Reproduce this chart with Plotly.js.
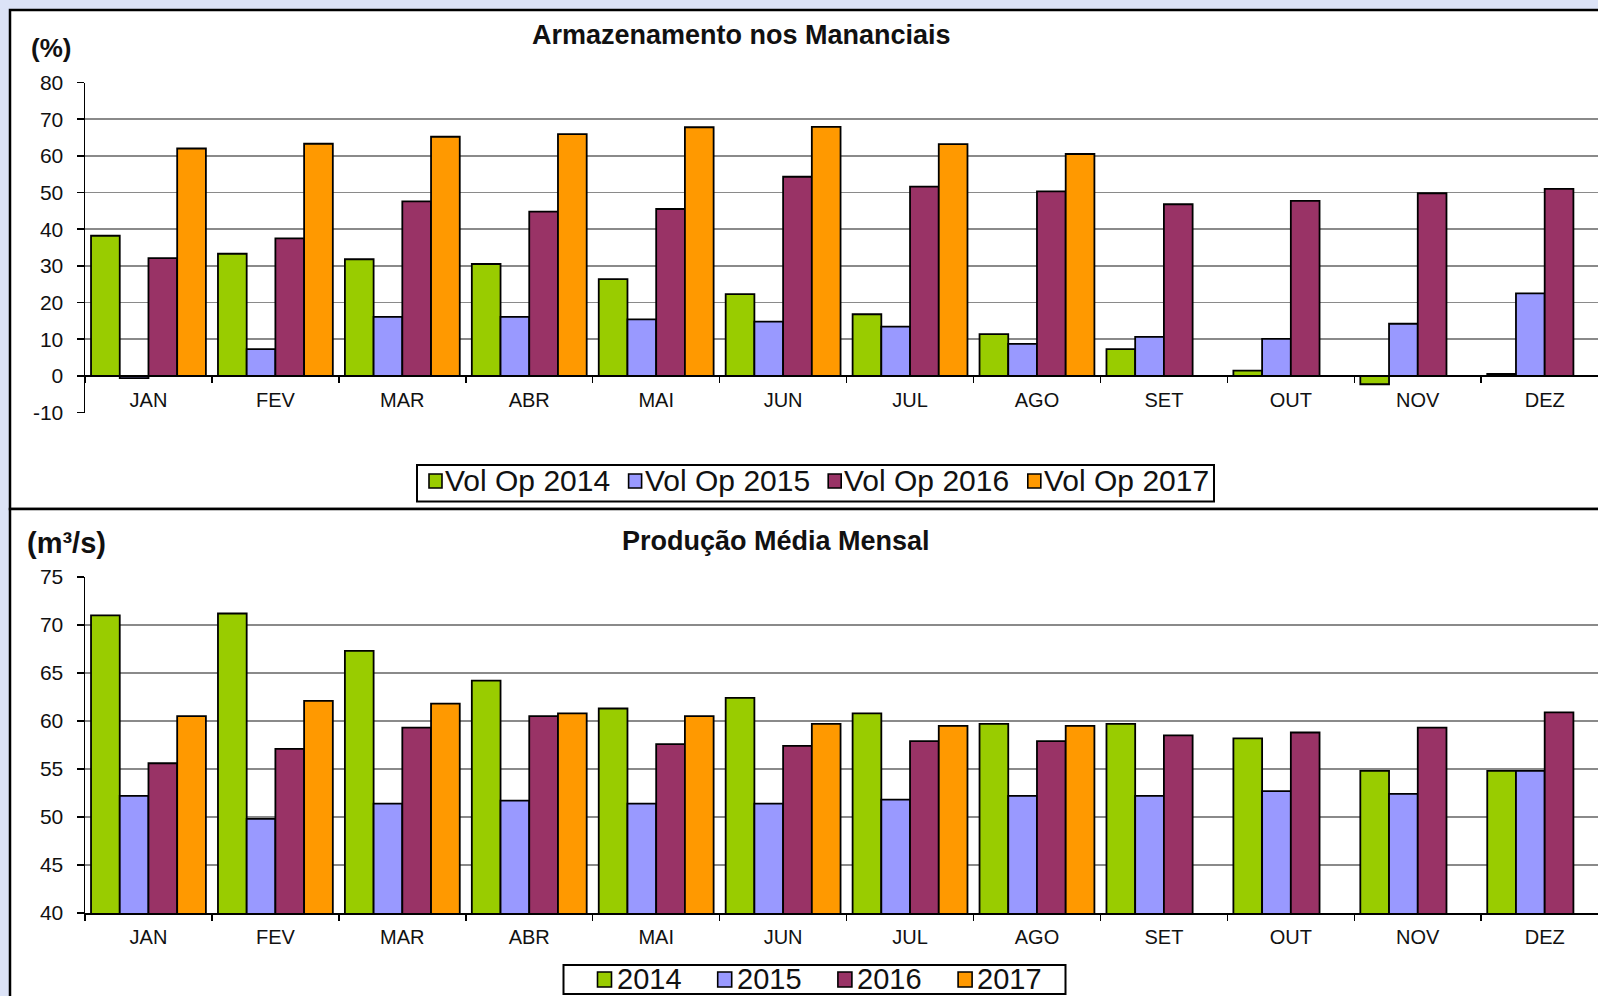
<!DOCTYPE html>
<html>
<head>
<meta charset="utf-8">
<script src="https://cdn.plot.ly/plotly-3.0.1.min.js"></script>
<style>
html,body{margin:0;padding:0;background:#dce3f7;overflow:hidden;}
#chart{width:1598px;height:996px;}
</style>
</head>
<body>
<div id="chart"></div>
<script>
// ---- data ----
var months = ['JAN','FEV','MAR','ABR','MAI','JUN','JUL','AGO','SET','OUT','NOV','DEZ'];

var volNames = ['Vol Op 2014','Vol Op 2015','Vol Op 2016','Vol Op 2017'];
var vol2014 = [38.2, 33.3, 31.8, 30.5, 26.4, 22.3, 16.8, 11.4, 7.3, 1.4, -2.3, 0.5];
var vol2015 = [-0.6, 7.3, 16.1, 16.1, 15.4, 14.8, 13.4, 8.7, 10.6, 10.1, 14.2, 22.5];
var vol2016 = [32.1, 37.5, 47.6, 44.8, 45.5, 54.3, 51.6, 50.3, 46.8, 47.7, 49.8, 51.0];
var vol2017 = [62.0, 63.3, 65.2, 65.9, 67.8, 67.9, 63.2, 60.5, null, null, null, null];
var volTickVals = [-10, 0, 10, 20, 30, 40, 50, 60, 70, 80];
var volTickText = ['-10', '0', '10', '20', '30', '40', '50', '60', '70', '80'];

var prodNames = ['2014','2015','2016','2017'];
var prod2014 = [71.0, 71.2, 67.3, 64.2, 61.3, 62.4, 60.8, 59.7, 59.7, 58.2, 54.8, 54.8];
var prod2015 = [52.2, 49.8, 51.4, 51.7, 51.4, 51.4, 51.8, 52.2, 52.2, 52.7, 52.4, 54.8];
var prod2016 = [55.6, 57.1, 59.3, 60.5, 57.6, 57.4, 57.9, 57.9, 58.5, 58.8, 59.3, 60.9];
var prod2017 = [60.5, 62.1, 61.8, 60.8, 60.5, 59.7, 59.5, 59.5, null, null, null, null];

var topTitle = 'Armazenamento nos Mananciais';
var topUnit = '(%)';
var botTitle = 'Produção Média Mensal';
var botUnit = '(m³/s)';

var colors = ['#99cc00', '#9999ff', '#993366', '#ff9900'];

// ---- geometry helpers (pixel -> paper) ----
var W = 1598, H = 996;
function px(x){ return x / W; }
function py(y){ return 1 - y / H; }

var FONT = '"Liberation Sans", Arial, sans-serif';
var TXT = '#111';

var traces = [];
[vol2014, vol2015, vol2016, vol2017].forEach(function(v, i){
  traces.push({
    type: 'bar', x: months, y: v, name: volNames[i],
    xaxis: 'x', yaxis: 'y', showlegend: false,
    marker: {color: colors[i], line: {color: '#000', width: 1.8}},
    hoverinfo: 'x+y+name'
  });
});
[prod2014, prod2015, prod2016, prod2017].forEach(function(v, i){
  traces.push({
    type: 'bar', x: months, y: v, name: prodNames[i],
    xaxis: 'x2', yaxis: 'y2', showlegend: false,
    marker: {color: colors[i], line: {color: '#000', width: 1.8}},
    hoverinfo: 'x+y+name'
  });
});

var xRange = [-0.5, 11.42];
var xDomain = [px(85), 1];

var yTopTop = 82.5, yTopBot = 412.5;
var zeroPx = yTopTop + (80 / 90) * (yTopBot - yTopTop);

var yTickFont = {family: FONT, size: 21, color: TXT};
var xTickFont = {family: FONT, size: 20, color: TXT};

var shapes = [
  {type: 'rect', xref: 'paper', yref: 'paper', x0: px(10), x1: px(1620), y0: py(509), y1: py(10),
   fillcolor: '#ffffff', line: {color: '#000', width: 2.5}, layer: 'below'},
  {type: 'rect', xref: 'paper', yref: 'paper', x0: px(10), x1: px(1620), y0: py(1020), y1: py(509),
   fillcolor: '#ffffff', line: {color: '#000', width: 2.5}, layer: 'below'}
];

var annotations = [
  {text: '<b>' + topTitle + '</b>', xref: 'paper', yref: 'paper', x: px(741), y: py(35),
   xanchor: 'center', yanchor: 'middle', showarrow: false, font: {family: FONT, size: 27, color: TXT}},
  {text: '<b>' + topUnit + '</b>', xref: 'paper', yref: 'paper', x: px(29), y: py(48),
   xanchor: 'left', yanchor: 'middle', showarrow: false, font: {family: FONT, size: 26, color: TXT}},
  {text: '<b>' + botTitle + '</b>', xref: 'paper', yref: 'paper', x: px(776), y: py(541),
   xanchor: 'center', yanchor: 'middle', showarrow: false, font: {family: FONT, size: 27, color: TXT}},
  {text: '<b>' + botUnit + '</b>', xref: 'paper', yref: 'paper', x: px(25), y: py(543),
   xanchor: 'left', yanchor: 'middle', showarrow: false, font: {family: FONT, size: 29, color: TXT}}
];

// ---- legends (box + swatch + label per series) ----
function addLegend(names, box, sw0, pitch, swW, swTop, swBot, textGap, textY, fontSize){
  shapes.push({type: 'rect', xref: 'paper', yref: 'paper',
    x0: px(box[0]), x1: px(box[1]), y0: py(box[3]), y1: py(box[2]),
    fillcolor: '#ffffff', line: {color: '#000', width: 2}});
  names.forEach(function(n, i){
    var sx = sw0 + i * pitch;
    shapes.push({type: 'rect', xref: 'paper', yref: 'paper',
      x0: px(sx), x1: px(sx + swW), y0: py(swBot), y1: py(swTop),
      fillcolor: colors[i], line: {color: '#000', width: 1.6}});
    annotations.push({text: n, xref: 'paper', yref: 'paper', x: px(sx + swW + textGap), y: py(textY),
      xanchor: 'left', yanchor: 'middle', showarrow: false,
      font: {family: FONT, size: fontSize, color: TXT}});
  });
}
addLegend(volNames, [417, 1214, 465, 501.5], 429, 199.6, 13, 474, 488, 1, 480.5, 30);
addLegend(prodNames, [563.5, 1065.5, 965, 994], 597.5, 120.2, 14, 972, 987, 3, 978.5, 29);

var layout = {
  width: W, height: H,
  margin: {l: 0, r: 0, t: 0, b: 0},
  paper_bgcolor: '#dce3f7',
  plot_bgcolor: '#ffffff',
  barmode: 'group',
  bargap: 0.095,
  bargroupgap: 0,
  showlegend: false,
  font: {family: FONT, color: TXT},
  xaxis: {
    domain: xDomain, range: xRange, type: 'category',
    anchor: 'free', position: py(zeroPx),
    showline: true, linecolor: '#000', linewidth: 1.5,
    ticks: 'outside', tickson: 'boundaries', ticklen: 6, tickcolor: '#000', tickwidth: 1.5,
    showgrid: false, tickfont: xTickFont, ticklabelstandoff: 6
  },
  yaxis: {
    domain: [py(yTopBot), py(yTopTop)], range: [-10, 80],
    tickmode: 'array', tickvals: volTickVals, ticktext: volTickText,
    showline: true, linecolor: '#000', linewidth: 1.5,
    ticks: 'outside', ticklen: 7, tickcolor: '#000', tickwidth: 1.5,
    showgrid: true, gridcolor: '#8a8a8a', gridwidth: 1.5,
    zeroline: true, zerolinecolor: '#000', zerolinewidth: 1.5,
    tickfont: yTickFont, ticklabelstandoff: 9
  },
  xaxis2: {
    domain: xDomain, range: xRange, type: 'category', anchor: 'y2',
    showline: true, linecolor: '#000', linewidth: 1.5,
    ticks: 'outside', tickson: 'boundaries', ticklen: 6, tickcolor: '#000', tickwidth: 1.5,
    showgrid: false, tickfont: xTickFont, ticklabelstandoff: 5
  },
  yaxis2: {
    domain: [py(913), py(577)], range: [40, 75], dtick: 5,
    showline: true, linecolor: '#000', linewidth: 1.5,
    ticks: 'outside', ticklen: 7, tickcolor: '#000', tickwidth: 1.5,
    showgrid: true, gridcolor: '#8a8a8a', gridwidth: 1.5,
    zeroline: false,
    tickfont: yTickFont, ticklabelstandoff: 9
  },
  shapes: shapes,
  annotations: annotations
};

Plotly.newPlot('chart', traces, layout, {displayModeBar: false, staticPlot: true});
</script>
</body>
</html>
